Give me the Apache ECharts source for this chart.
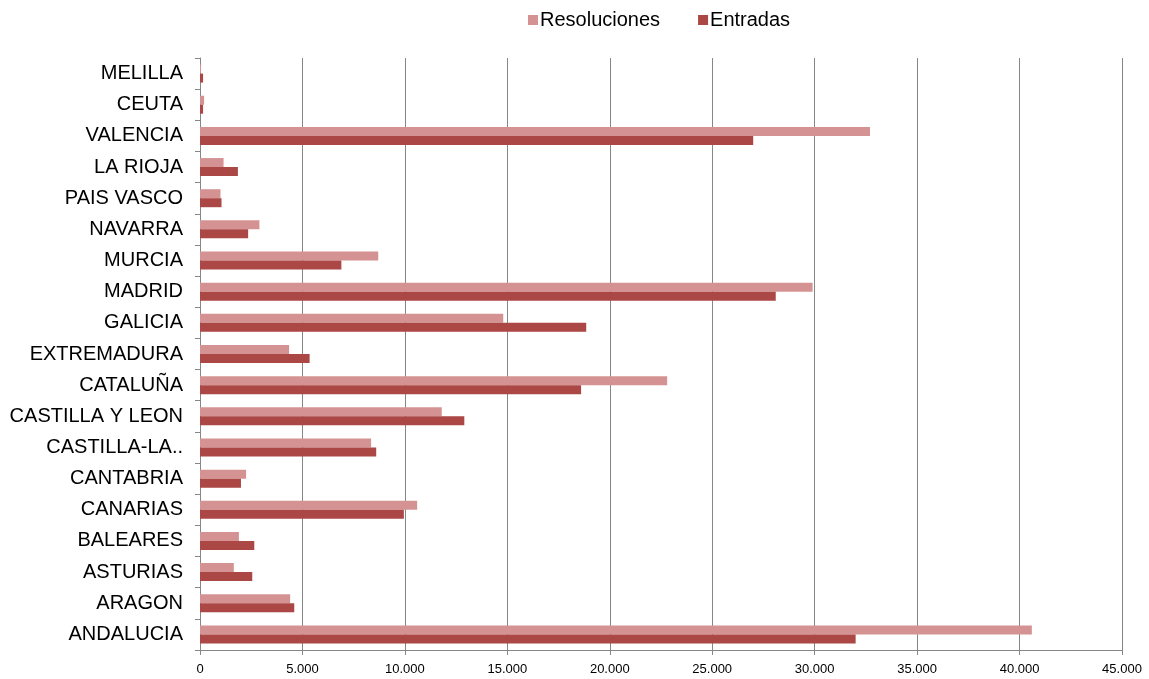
<!DOCTYPE html>
<html>
<head>
<meta charset="utf-8">
<script src="https://cdn.jsdelivr.net/npm/echarts@6/dist/echarts.min.js"></script>
<style>
  html, body { margin: 0; padding: 0; background: #fff; }
  #chart { width: 1149px; height: 679px; }
</style>
</head>
<body>
<div id="chart"></div>
<script>
// comunidades, de abajo a arriba
const regiones = ['ANDALUCIA', 'ARAGON', 'ASTURIAS', 'BALEARES', 'CANARIAS', 'CANTABRIA',
  'CASTILLA-LA MANCHA', 'CASTILLA Y LEON', 'CATALUÑA', 'EXTREMADURA', 'GALICIA', 'MADRID',
  'MURCIA', 'NAVARRA', 'PAIS VASCO', 'LA RIOJA', 'VALENCIA', 'CEUTA', 'MELILLA'];
const resoluciones = [40600, 4400, 1650, 1900, 10600, 2250, 8350, 11800, 22800, 4350, 14800, 29900,
  8700, 2900, 1000, 1150, 32700, 200, 50];
const entradas = [32000, 4600, 2550, 2650, 9950, 2000, 8600, 12900, 18600, 5350, 18850, 28100,
  6900, 2350, 1050, 1850, 27000, 150, 150];

const myChart = echarts.init(document.getElementById('chart'));

const option = {
  animation: false,
  color: ['#D49392', '#AB4744'],
  textStyle: { fontFamily: 'Liberation Sans, Arial, sans-serif' },
  legend: {
    top: 5,
    left: 523,
    icon: 'rect',
    itemWidth: 10,
    itemHeight: 10,
    itemGap: 38,
    textStyle: { fontSize: 20, color: '#000', padding: [0, 0, 0, -3] },
    data: ['Resoluciones', 'Entradas']
  },
  grid: {
    left: 200,
    right: 27,
    top: 58,
    bottom: 29
  },
  xAxis: {
    type: 'value',
    min: 0,
    max: 45000,
    interval: 5000,
    axisLine: { show: true, lineStyle: { color: '#868686' } },
    axisTick: { show: true, length: 5, lineStyle: { color: '#868686' } },
    splitLine: { show: true, lineStyle: { color: '#868686', width: 1 } },
    axisLabel: {
      fontSize: 13,
      color: '#000',
      margin: 13,
      formatter: (value) => value === 0 ? '0' : (value / 1000).toFixed(3)
    }
  },
  yAxis: {
    type: 'category',
    data: regiones,
    axisLine: { show: true, lineStyle: { color: '#868686' } },
    axisTick: { show: true, length: 5, lineStyle: { color: '#868686' } },
    axisLabel: {
      fontSize: 20,
      color: '#000',
      margin: 17,
      padding: [3, 0, 0, 0],
      formatter: (value) => value.length > 16 ? value.slice(0, 11) + '..' : value
    }
  },
  series: [
    {
      name: 'Resoluciones',
      type: 'bar',
      data: resoluciones,
      barWidth: 9,
      barGap: '0%'
    },
    {
      name: 'Entradas',
      type: 'bar',
      data: entradas,
      barWidth: 9,
      barGap: '0%'
    }
  ]
};
myChart.setOption(option);
</script>
</body>
</html>
